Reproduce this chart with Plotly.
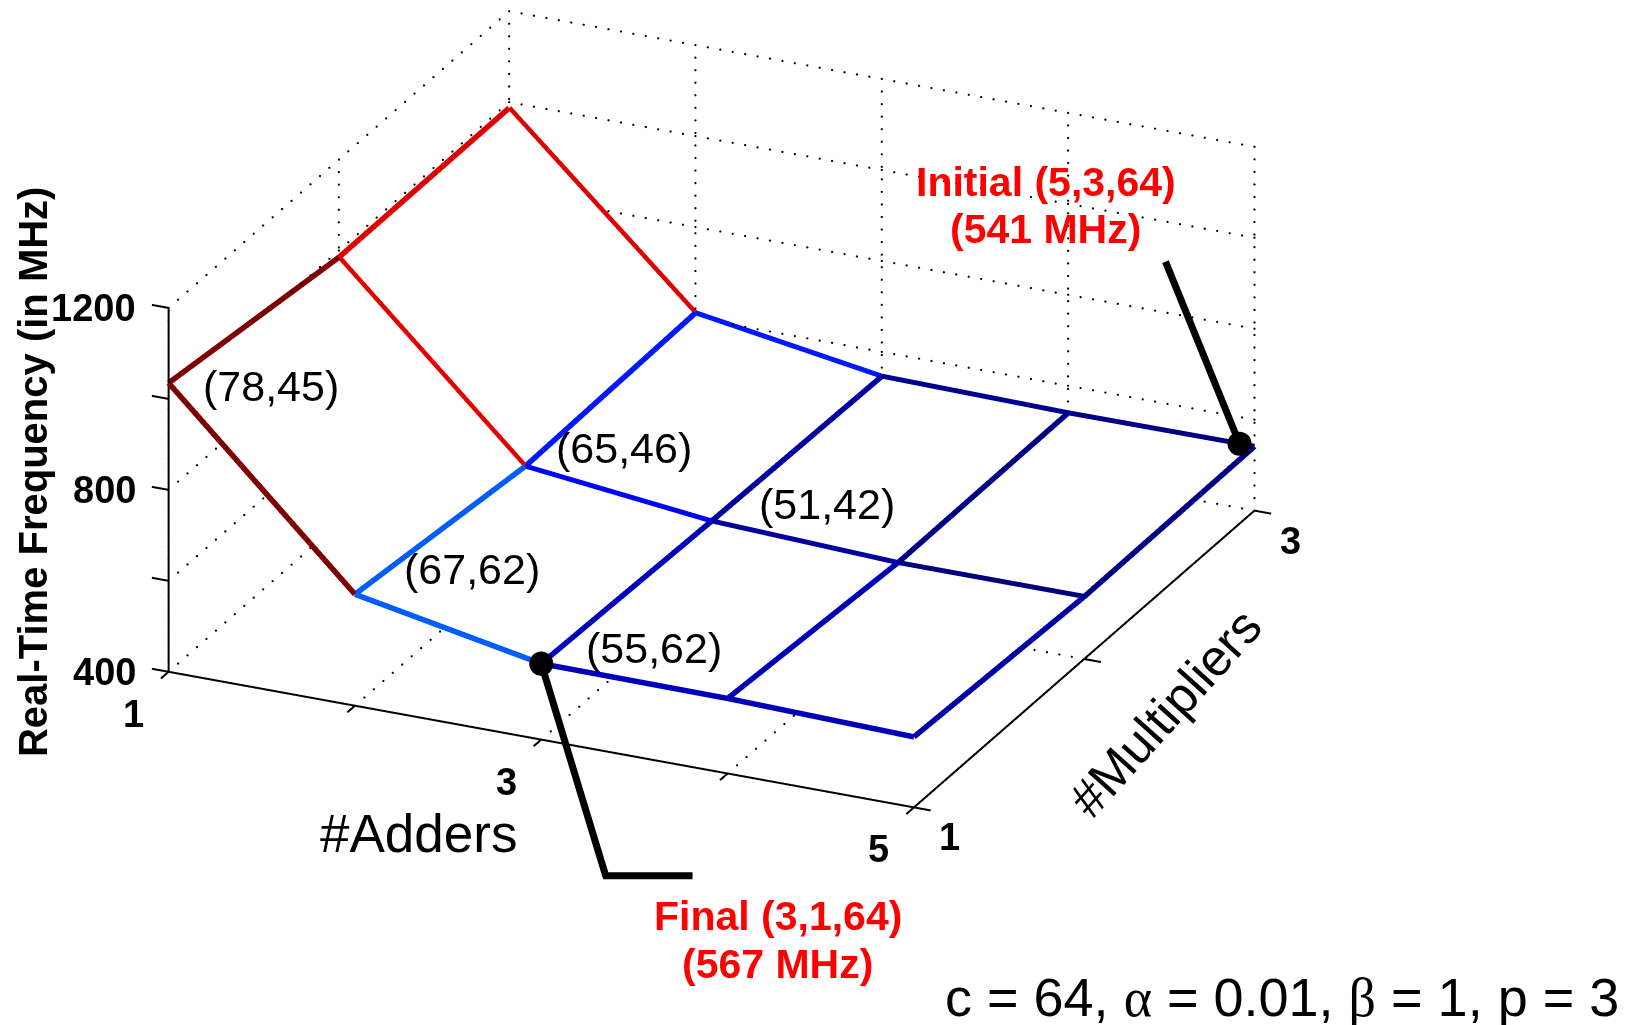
import numpy as np
import plotly.graph_objects as go

ADDERS = [1, 2, 3, 4, 5]
MULTIPLIERS = [1, 2, 3]
# frequency (MHz) rows: multipliers = 1, 2, 3; columns: adders = 1..5
FREQ_M1 = [1035, 645, 567, 565, 555]
FREQ_M2 = [985, 600, 554, 537, 537]
FREQ_M3 = [987, 611, 546, 540, 541]
FREQ = [FREQ_M1, FREQ_M2, FREQ_M3]

X_TICKS = [1, 2, 3, 4, 5]
Y_TICKS = [1, 2, 3]
Z_TICKS = [400, 600, 800, 1000, 1200]
X_LABELS = {1: "1", 3: "3", 5: "5"}
Y_LABELS = {1: "1", 3: "3"}
Z_LABELS = {400: "400", 800: "800", 1200: "1200"}

POINT_LABELS = [(1, 1, "(78,45)"), (2, 1, "(67,62)"), (2, 2, "(65,46)"), (3, 1, "(55,62)"), (3, 2, "(51,42)")]
HIGHLIGHT_X = [3, 4.92]
HIGHLIGHT_Y = [1, 3]
HIGHLIGHT_Z = [567, 541]

S = 1633 / 1568
W, H = 1633, 1025
ZMIN, ZMAX = 537, 1035
XPAD, YPAD, ZR = 0.09, 0.045, (400, 1200)


def jet(v):
    t = max(0.0, min(1.0, (v - ZMIN) / (ZMAX - ZMIN)))
    def ch(c):
        return max(0.0, min(1.0, 1.5 - abs(4 * t - c)))
    return "rgb(%d,%d,%d)" % (255 * ch(3), 255 * ch(2), 255 * ch(1))


def px(x, y):
    return x * S / W, 1 - y * S / H


fig = go.Figure()

# opaque white mesh faces hide the dotted grid behind them (kept just under the edges)
fig.add_trace(go.Surface(
    x=ADDERS, y=MULTIPLIERS, z=[[v - 4 for v in row] for row in FREQ],
    showscale=False, hoverinfo="skip",
    colorscale=[[0, "white"], [1, "white"]],
    lighting=dict(ambient=1, diffuse=0, specular=0, fresnel=0, roughness=1),
))


def line3d(xs, ys, zs, color="black", width=4):
    fig.add_trace(go.Scatter3d(x=xs, y=ys, z=zs, mode="lines", hoverinfo="skip",
                               showlegend=False, line=dict(color=color, width=width)))


x0, x1 = ADDERS[0], ADDERS[-1]
y0, y1 = MULTIPLIERS[0], MULTIPLIERS[-1]
z0, z1 = Z_TICKS[0], Z_TICKS[-1]

# dotted grid on floor, back wall and left wall, as small round dots 12.5 px apart
grid_x, grid_y, grid_z = [], [], []


def dotted(a, b):
    n = int(round(abs(b[0] - a[0]) * 15.1 + abs(b[1] - a[1]) * 18.1 + abs(b[2] - a[2]) * 0.0365)) + 1
    for arr, p, q in zip((grid_x, grid_y, grid_z), a, b):
        arr.extend(np.linspace(p, q, n).tolist())


for xv in X_TICKS:
    dotted((xv, y0, z0), (xv, y1, z0))
    dotted((xv, y1, z0), (xv, y1, z1))
for yv in Y_TICKS:
    dotted((x0, yv, z0), (x1, yv, z0))
    dotted((x0, yv, z0), (x0, yv, z1))
for zv in Z_TICKS:
    dotted((x0, y0, zv), (x0, y1, zv))
    dotted((x0, y1, zv), (x1, y1, zv))
fig.add_trace(go.Scatter3d(x=grid_x, y=grid_y, z=grid_z, mode="markers", hoverinfo="skip", showlegend=False,
                           marker=dict(color="black", size=1.3, line=dict(width=0))))

# axes and ticks
line3d([x0, x1], [y0, y0], [z0, z0])
line3d([x1, x1], [y0, y1], [z0, z0])
line3d([x0, x0], [y0, y0], [z0, z1])
for xv in X_TICKS:
    line3d([xv, xv], [y0, y0 - YPAD], [z0, z0])
for yv in Y_TICKS:
    line3d([x1, x1 + XPAD], [yv, yv], [z0, z0])
for zv in Z_TICKS:
    line3d([x0, x0 - XPAD], [y0, y0], [zv, zv])

# mesh edges: flat jet colour per edge
for j, yv in enumerate(MULTIPLIERS):
    for i, xv in enumerate(ADDERS):
        if i + 1 < len(ADDERS):
            a, b = FREQ[j][i], FREQ[j][i + 1]
            line3d([xv, ADDERS[i + 1]], [yv, yv], [a, b], color=jet(max(a, b)), width=11)
        if j + 1 < len(MULTIPLIERS):
            a, b = FREQ[j][i], FREQ[j + 1][i]
            line3d([xv, xv], [yv, MULTIPLIERS[j + 1]], [a, b], color=jet(max(a, b)), width=11)

TICK_FONT = dict(family="Liberation Sans", size=38, color="black")
scene_ann = []
for v, t in X_LABELS.items():
    scene_ann.append(dict(x=v, y=y0, z=z0, text="<b>%s</b>" % t, showarrow=False, xanchor="center",
                          yanchor="middle", xshift=-35, yshift=-42, font=TICK_FONT))
for v, t in Y_LABELS.items():
    scene_ann.append(dict(x=x1, y=v, z=z0, text="<b>%s</b>" % t, showarrow=False, xanchor="center",
                          yanchor="middle", xshift=36, yshift=-30, font=TICK_FONT))
for v, t in Z_LABELS.items():
    scene_ann.append(dict(x=x0, y=y0, z=v, text="<b>%s</b>" % t, showarrow=False, xanchor="right",
                          yanchor="middle", xshift=-31, yshift=0, font=TICK_FONT))
LABEL_OFFSETS = [(102, -3), (117, 25), (99, 18), (113, 16), (115, 17)]
for (ax, mu, t), (dx, dy) in zip(POINT_LABELS, LABEL_OFFSETS):
    scene_ann.append(dict(x=ax, y=mu, z=FREQ[mu - 1][ax - 1], text=t, showarrow=False,
                          xanchor="center", yanchor="middle", xshift=dx, yshift=dy,
                          font=dict(family="Liberation Sans", size=43, color="black")))

# highlighted design points: black dot at the data point with a thick leader
LEADER_TAILS = [(65 * S, 214 * S), (-74 * S, -182 * S)]
for hx, hy, hz, (tx, ty) in zip(HIGHLIGHT_X, HIGHLIGHT_Y, HIGHLIGHT_Z, LEADER_TAILS):
    scene_ann.append(dict(x=hx, y=hy, z=hz, text=" ", showarrow=True, arrowhead=6, arrowsize=0.86,
                          arrowwidth=7, arrowcolor="black", ax=tx, ay=ty, standoff=0))

eye_dir = (0.381, -0.834, 0.398)
k = 3.0
up_dir = (-0.415 * 0.398, 0.9096 * 0.398, 0.917)
shift = 0.2015
UNIT = 514.0
STRETCH = 1.004
fig.update_layout(
    width=W, height=H, margin=dict(l=0, r=0, t=0, b=0), paper_bgcolor="white",
    showlegend=False,
    scene=dict(
        domain=dict(x=[0, 1423 / W], y=[0, 1]),
        aspectmode="manual",
        aspectratio=dict(x=STRETCH * (4 + 2 * XPAD) * 196.5 * S / UNIT,
                         y=STRETCH * (2 + 2 * YPAD) * 196.5 * 2 * S / UNIT,
                         z=382 * S / UNIT),
        camera=dict(projection=dict(type="orthographic"),
                    eye=dict(x=eye_dir[0] * k - up_dir[0] * shift, y=eye_dir[1] * k - up_dir[1] * shift,
                             z=eye_dir[2] * k - up_dir[2] * shift),
                    up=dict(x=0, y=0, z=1),
                    center=dict(x=-up_dir[0] * shift, y=-up_dir[1] * shift, z=-up_dir[2] * shift)),
        xaxis=dict(range=[x0 - XPAD, x1 + XPAD], visible=False),
        yaxis=dict(range=[y0 - YPAD, y1 + YPAD], visible=False),
        zaxis=dict(range=list(ZR), visible=False),
        annotations=scene_ann,
        bgcolor="white",
    ),
)


def note(x, y, text, size, color="black", bold=False, angle=0):
    px_x, px_y = px(x, y)
    fig.add_annotation(xref="paper", yref="paper", x=px_x, y=px_y, text=("<b>%s</b>" % text) if bold else text,
                       showarrow=False, xanchor="center", yanchor="middle", textangle=angle, align="center",
                       font=dict(family="Liberation Sans", size=size, color=color))


note(31, 453, "Real-Time Frequency (in MHz)", 40, bold=True, angle=-90)
note(402, 800, "#Adders", 53)
note(1119, 684, "#Multipliers", 51, angle=-48)
note(1004, 175, "Initial (5,3,64)", 41, color="red", bold=True)
note(1004, 220, "(541 MHz)", 41, color="red", bold=True)
note(747, 880, "Final (3,1,64)", 41, color="red", bold=True)
note(747, 926, "(567 MHz)", 41, color="red", bold=True)
note(1231, 958, 'c = 64, <span style="font-family:Liberation Serif">α</span> = 0.01, '
     '<span style="font-family:Liberation Serif">β</span> = 1, p = 3', 54)

# horizontal foot of the "Final" leader
path = "M " + " L ".join("%.4f %.4f" % px(a, b) for a, b in [(579, 841), (665, 841)])
fig.add_shape(type="path", xref="paper", yref="paper", path=path, layer="above",
              line=dict(color="black", width=7))

fig.write_html("out.html", config=dict(displayModeBar=False),
               post_script="document.body.style.margin='0';document.body.style.overflow='hidden';")
